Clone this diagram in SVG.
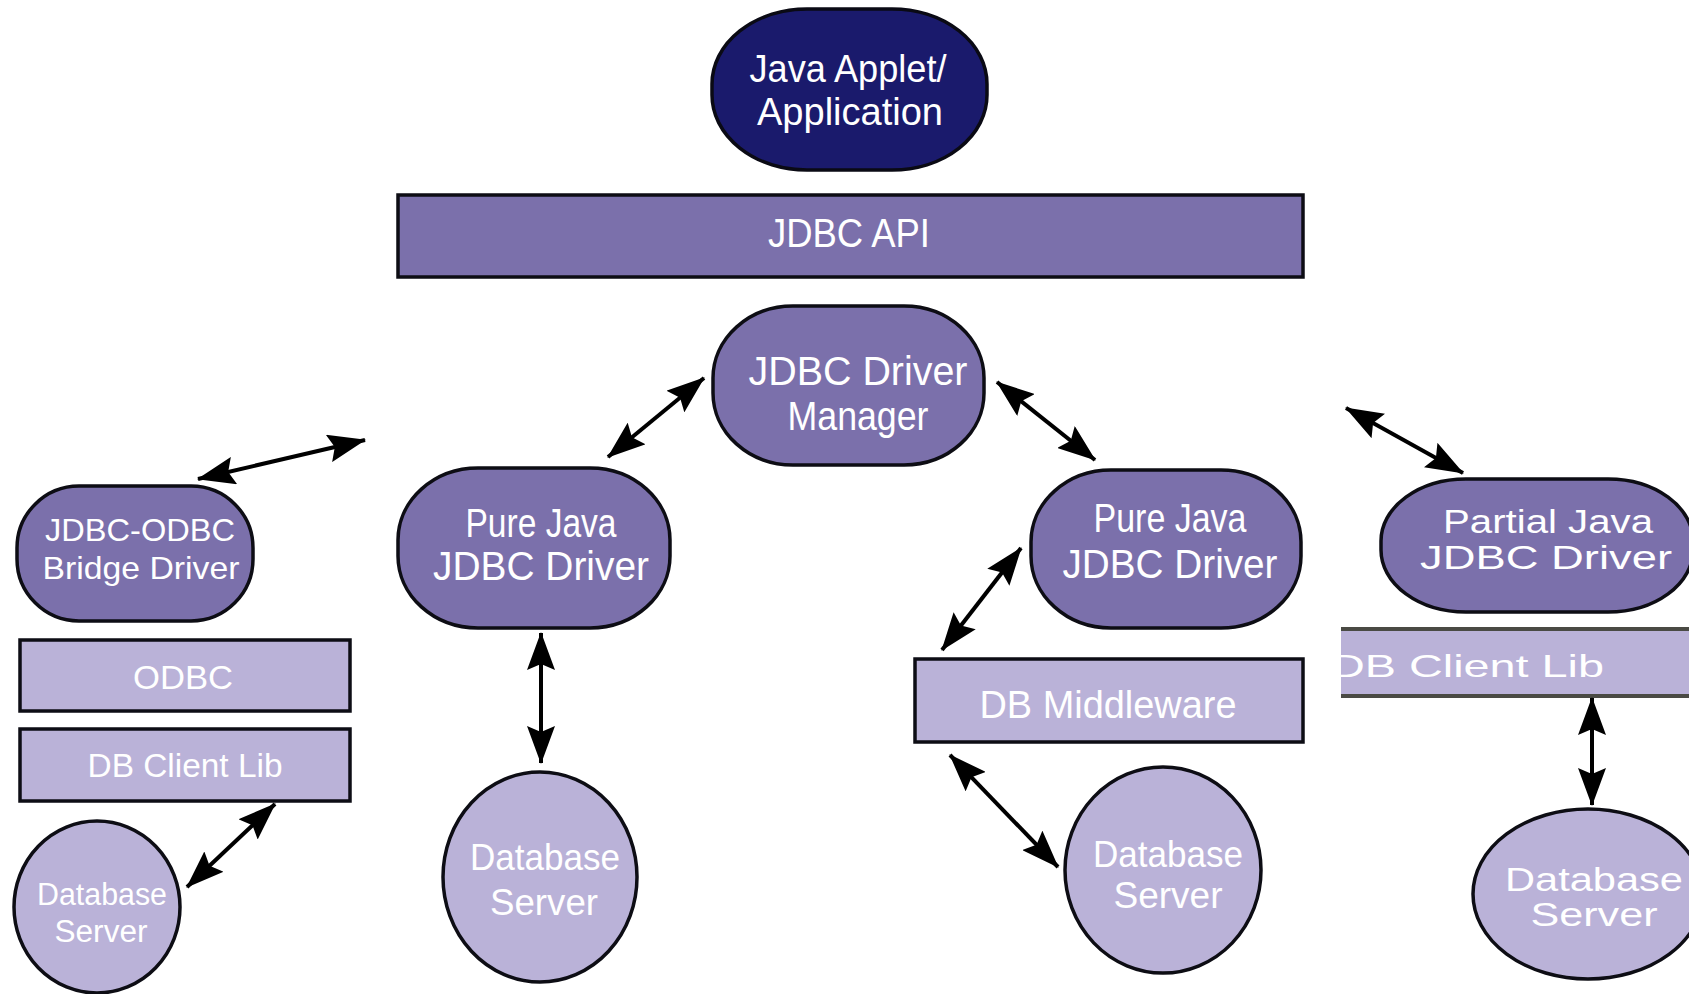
<svg xmlns="http://www.w3.org/2000/svg" width="1689" height="994" viewBox="0 0 1689 994">
<style>
.dark{fill:#1a1a6c;stroke:#0a0a14;stroke-width:3.5}
.mid{fill:#7b70ab;stroke:#0d0d14;stroke-width:3.5}
.light{fill:#bab2d8;stroke:#0d0d14;stroke-width:3.5}
text{font-family:"Liberation Sans",Arial,sans-serif;fill:#ffffff;text-anchor:middle}
.conn line{stroke:#000;stroke-width:4;marker-start:url(#ah);marker-end:url(#ah)}
</style>
<defs>
<marker id="ah" viewBox="0 0 38 28" markerWidth="38" markerHeight="28" refX="37" refY="14" orient="auto-start-reverse" markerUnits="userSpaceOnUse">
<path d="M0,0 L38,14 L0,28 L6,14 z" fill="#000"/>
</marker>
<clipPath id="clipR"><rect x="1341" y="600" width="400" height="120"/></clipPath>
</defs>
<rect width="1689" height="994" fill="#ffffff"/>

<g id="java-app">
<rect class="dark" x="712" y="9" width="275" height="161" rx="95" ry="75"/>
<text x="848" y="82" font-size="38" textLength="197" lengthAdjust="spacingAndGlyphs">Java Applet/</text>
<text x="850" y="125" font-size="38" textLength="186" lengthAdjust="spacingAndGlyphs">Application</text>
</g>

<g id="jdbc-api">
<rect class="mid" x="398" y="195" width="905" height="82"/>
<text x="849" y="247" font-size="40" textLength="162" lengthAdjust="spacingAndGlyphs">JDBC API</text>
</g>

<g id="driver-manager">
<rect class="mid" x="713" y="306" width="271" height="159" rx="80" ry="72"/>
<text x="858" y="385" font-size="40" textLength="219" lengthAdjust="spacingAndGlyphs">JDBC Driver</text>
<text x="858" y="430" font-size="40" textLength="141" lengthAdjust="spacingAndGlyphs">Manager</text>
</g>

<g id="bridge-driver">
<rect class="mid" x="17" y="486" width="236" height="135" rx="62" ry="62"/>
<text x="140" y="541" font-size="32" textLength="190" lengthAdjust="spacingAndGlyphs">JDBC-ODBC</text>
<text x="141" y="579" font-size="32" textLength="197" lengthAdjust="spacingAndGlyphs">Bridge Driver</text>
</g>

<g id="odbc">
<rect class="light" x="20" y="640" width="330" height="71"/>
<text x="183" y="689" font-size="34" textLength="100" lengthAdjust="spacingAndGlyphs">ODBC</text>
</g>

<g id="db-client-lib-left">
<rect class="light" x="20" y="729" width="330" height="72"/>
<text x="185" y="777" font-size="33" textLength="195" lengthAdjust="spacingAndGlyphs">DB Client Lib</text>
</g>

<g id="db-server-left">
<ellipse class="light" cx="97" cy="907" rx="83" ry="86"/>
<text x="102" y="905" font-size="31" textLength="130" lengthAdjust="spacingAndGlyphs">Database</text>
<text x="101" y="942" font-size="31" textLength="93" lengthAdjust="spacingAndGlyphs">Server</text>
</g>

<g id="pure-java-1">
<rect class="mid" x="398" y="468" width="272" height="160" rx="80" ry="72"/>
<text x="541" y="537" font-size="40" textLength="151" lengthAdjust="spacingAndGlyphs">Pure Java</text>
<text x="541" y="580" font-size="40" textLength="216" lengthAdjust="spacingAndGlyphs">JDBC Driver</text>
</g>

<g id="db-server-1">
<ellipse class="light" cx="540" cy="877" rx="97" ry="105"/>
<text x="545" y="870" font-size="36" textLength="150" lengthAdjust="spacingAndGlyphs">Database</text>
<text x="544" y="915" font-size="36" textLength="108" lengthAdjust="spacingAndGlyphs">Server</text>
</g>

<g id="pure-java-2">
<rect class="mid" x="1031" y="470" width="270" height="158" rx="80" ry="72"/>
<text x="1170" y="532" font-size="40" textLength="153" lengthAdjust="spacingAndGlyphs">Pure Java</text>
<text x="1170" y="578" font-size="40" textLength="215" lengthAdjust="spacingAndGlyphs">JDBC Driver</text>
</g>

<g id="db-middleware">
<rect class="light" x="915" y="659" width="388" height="83"/>
<text x="1108" y="718" font-size="38" textLength="257" lengthAdjust="spacingAndGlyphs">DB Middleware</text>
</g>

<g id="db-server-2">
<ellipse class="light" cx="1163" cy="870" rx="98" ry="103"/>
<text x="1168" y="867" font-size="36" textLength="150" lengthAdjust="spacingAndGlyphs">Database</text>
<text x="1168" y="908" font-size="36" textLength="109" lengthAdjust="spacingAndGlyphs">Server</text>
</g>

<g id="partial-java">
<rect class="mid" x="1381" y="479" width="312" height="133" rx="85" ry="62"/>
<text x="1548" y="533" font-size="33" textLength="210" lengthAdjust="spacingAndGlyphs">Partial Java</text>
<text x="1546" y="569" font-size="33" textLength="252" lengthAdjust="spacingAndGlyphs">JDBC Driver</text>
</g>

<g id="db-client-lib-right">
<rect x="1341" y="627" width="360" height="71" fill="#bab2d8"/>
<line x1="1341" y1="629" x2="1701" y2="629" stroke="#4a4a44" stroke-width="4"/>
<line x1="1341" y1="696" x2="1701" y2="696" stroke="#4a4a44" stroke-width="4"/>
<g clip-path="url(#clipR)">
<text x="1331" y="677" font-size="32" textLength="273" lengthAdjust="spacingAndGlyphs" style="text-anchor:start">DB Client Lib</text>
</g>
</g>

<g id="db-server-right">
<ellipse class="light" cx="1588" cy="894" rx="115" ry="85"/>
<text x="1594" y="891" font-size="33" textLength="178" lengthAdjust="spacingAndGlyphs">Database</text>
<text x="1594" y="926" font-size="33" textLength="127" lengthAdjust="spacingAndGlyphs">Server</text>
</g>

<g id="connectors" class="conn">
<line x1="198" y1="479" x2="365" y2="440"/>
<line x1="608" y1="457" x2="704" y2="378"/>
<line x1="997" y1="382" x2="1095" y2="460"/>
<line x1="1346" y1="408" x2="1463" y2="473"/>
<line x1="541" y1="633" x2="541" y2="763"/>
<line x1="1021" y1="548" x2="942" y2="650"/>
<line x1="950" y1="755" x2="1058" y2="867"/>
<line x1="187" y1="887" x2="275" y2="804"/>
<line x1="1592" y1="698" x2="1592" y2="805"/>
</g>
</svg>
